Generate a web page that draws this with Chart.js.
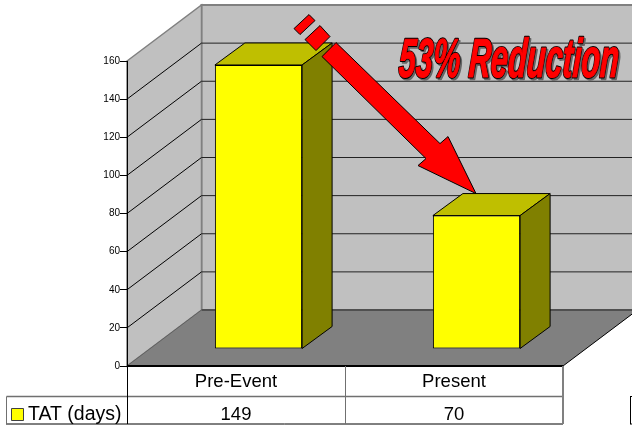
<!DOCTYPE html>
<html>
<head>
<meta charset="utf-8">
<title>TAT (days)</title>
<style>
  html, body { margin: 0; padding: 0; background: #fff; overflow: hidden; }
  canvas { display: block; }
</style>
<script src="https://cdn.jsdelivr.net/npm/chart.js@4/dist/chart.umd.min.js"></script>
</head>
<body>
<canvas id="chart" width="632" height="425"></canvas>
<script>
const categories = ["Pre-Event", "Present"]
const tatDays = [149, 70]
const seriesName = "TAT (days)"
const callout = "53% Reduction"

const FONT = '"Liberation Sans", Arial, sans-serif'
const WALL = "#c0c0c0"
const FLOOR = "#808080"
const EDGE = "#808080"
const YELLOW = "#ffff00"
const YELLOW_TOP = "#bfbf00"
const YELLOW_SIDE = "#808000"

// how far the back wall and a bar sit behind the front plane
const WALL_DEPTH = { x: 74.5, y: -56 }
const BAR_OFFSET = { x: 22.5, y: -17 }
const BAR_DEPTH = { x: 30, y: -22 }

// arrow outline, relative to where it lands on the second bar
const ARROW = [[-140, -151], [-36, -50], [-28, -57], [0, 0], [-58, -28], [-50, -35], [-154, -137]]
const ARROW_DASHES = [
  [[-156, -168], [-146, -157], [-160, -143], [-171, -154]],
  [[-167, -179], [-161, -173], [-176, -159], [-182, -165]],
]

function poly(ctx, pts, fill, stroke, lineWidth = 1) {
  ctx.beginPath()
  pts.forEach(([x, y], i) => (i ? ctx.lineTo(x, y) : ctx.moveTo(x, y)))
  ctx.closePath()
  if (fill) { ctx.fillStyle = fill; ctx.fill() }
  if (stroke) { ctx.strokeStyle = stroke; ctx.lineWidth = lineWidth; ctx.stroke() }
}

function line(ctx, x1, y1, x2, y2, color, lineWidth = 1) {
  ctx.beginPath()
  ctx.moveTo(x1, y1)
  ctx.lineTo(x2, y2)
  ctx.strokeStyle = color
  ctx.lineWidth = lineWidth
  ctx.stroke()
}

const roomPlugin = {
  id: "room",
  beforeDraw(chart) {
    const { ctx, chartArea: a, scales } = chart
    const dx = WALL_DEPTH.x, dy = WALL_DEPTH.y
    ctx.save()

    // back wall, side wall, floor
    poly(ctx, [[a.left + dx, a.top + dy], [a.right + dx, a.top + dy], [a.right + dx, a.bottom + dy], [a.left + dx, a.bottom + dy]], WALL, EDGE, 2)
    poly(ctx, [[a.left, a.top], [a.left + dx, a.top + dy], [a.left + dx, a.bottom + dy], [a.left, a.bottom]], WALL, EDGE, 1.5)

    scales.y.ticks.forEach(t => {
      if (t.value === 0 || t.value === scales.y.max) return
      const y = scales.y.getPixelForValue(t.value)
      line(ctx, a.left, y, a.left + dx, y + dy, "#000")
      line(ctx, a.left + dx, y + dy, a.right + dx, y + dy, "#222")
    })

    poly(ctx, [[a.left, a.bottom], [a.left + dx, a.bottom + dy], [a.right + dx, a.bottom + dy], [a.right, a.bottom]], FLOOR)
    line(ctx, a.left + dx, a.bottom + dy, a.right + dx, a.bottom + dy, "#505050", 2)
    line(ctx, a.left, a.bottom, a.left + dx, a.bottom + dy, "#606060")
    line(ctx, a.right, a.bottom, a.right + dx, a.bottom + dy, "#000")
    ctx.restore()
  },
  beforeDatasetsDraw(chart) {
    const { ctx } = chart
    ctx.save()
    ctx.translate(BAR_OFFSET.x, BAR_OFFSET.y)
    chart.getDatasetMeta(0).data.forEach(bar => {
      const l = bar.x - bar.width / 2, r = bar.x + bar.width / 2
      const t = bar.y, b = bar.base
      const dx = BAR_DEPTH.x, dy = BAR_DEPTH.y
      poly(ctx, [[l, t], [l + dx, t + dy], [r + dx, t + dy], [r, t]], YELLOW_TOP, "#000")
      poly(ctx, [[r, t], [r + dx, t + dy], [r + dx, b + dy], [r, b]], YELLOW_SIDE, "#000")
    })
  },
  afterDatasetsDraw(chart) {
    chart.ctx.restore()
  },
  afterDraw(chart) {
    const { ctx, chartArea: a, scales } = chart
    const rowY = 396.5, bottomY = 424
    const mid = (scales.x.getPixelForTick(0) + scales.x.getPixelForTick(1)) / 2
    ctx.save()

    // data table under the axis
    line(ctx, a.left, a.bottom, a.right, a.bottom, "#000", 2)
    line(ctx, 6.5, rowY, a.right, rowY, "#707070", 1.5)
    line(ctx, 6, bottomY, a.right, bottomY, "#000")
    line(ctx, 6.5, rowY, 6.5, bottomY, "#707070")
    line(ctx, Math.round(a.left) + 0.5, a.bottom, Math.round(a.left) + 0.5, bottomY, "#000")
    line(ctx, Math.round(mid) + 0.5, a.bottom, Math.round(mid) + 0.5, bottomY, "#707070")
    line(ctx, a.right, a.bottom, a.right, bottomY, "#808080", 2)

    poly(ctx, [[11.5, 408.5], [23.5, 408.5], [23.5, 420.5], [11.5, 420.5]], YELLOW, "#404040")
    ctx.font = `19.5px ${FONT}`
    ctx.fillStyle = "#000"
    ctx.textBaseline = "alphabetic"
    ctx.textAlign = "left"
    ctx.fillText(chart.data.datasets[0].label, 28, 420)
    ctx.font = `18.5px ${FONT}`
    ctx.textAlign = "center"
    tatDays.forEach((v, i) => ctx.fillText(String(v), scales.x.getPixelForTick(i), 420))

    // cut-off box at the right margin
    line(ctx, 630.5, rowY, 630.5, bottomY, "#000")
    line(ctx, 630, rowY, 632, rowY, "#000")
    line(ctx, 630, bottomY, 632, bottomY, "#000")

    // arrow from the first bar down to the second
    const bar = chart.getDatasetMeta(0).data[1]
    const tipX = bar.x + BAR_OFFSET.x - 0.5
    const tipY = bar.y + BAR_OFFSET.y + BAR_DEPTH.y
    const at = pts => pts.map(([x, y]) => [tipX + x, tipY + y])
    poly(ctx, at(ARROW), "#ff0000", "#000")
    ARROW_DASHES.forEach(d => poly(ctx, at(d), "#ff0000", "#000"))

    // slanted, condensed callout with a drop shadow
    ctx.font = `italic bold 56px ${FONT}`
    ctx.textAlign = "left"
    ctx.lineJoin = "round"
    ctx.save()
    ctx.transform(0.548, 0, -0.06, 0.98, 398, 77)
    ctx.translate(3.5, 2)
    ctx.fillStyle = "#666"
    ctx.strokeStyle = "#666"
    ctx.lineWidth = 2.6
    ctx.strokeText(callout, 0, 0)
    ctx.fillText(callout, 0, 0)
    ctx.translate(-3.5, -2)
    ctx.strokeStyle = "#000"
    ctx.lineWidth = 3.2
    ctx.strokeText(callout, 0, 0)
    ctx.strokeStyle = "#ff0000"
    ctx.lineWidth = 1.2
    ctx.strokeText(callout, 0, 0)
    ctx.fillStyle = "#ff0000"
    ctx.fillText(callout, 0, 0)
    ctx.restore()
    ctx.restore()
  },
}

new Chart(document.getElementById("chart"), {
  type: "bar",
  data: {
    labels: categories,
    datasets: [{
      label: seriesName,
      data: tatDays,
      backgroundColor: YELLOW,
      borderColor: "#000",
      borderWidth: 1,
      borderSkipped: false,
      barPercentage: 0.4,
      categoryPercentage: 1,
      clip: false,
    }],
  },
  plugins: [roomPlugin],
  options: {
    responsive: false,
    animation: false,
    events: [],
    layout: { padding: { top: 61, right: 69, left: 0, bottom: 0 } },
    plugins: { legend: { display: false }, tooltip: { enabled: false } },
    scales: {
      x: {
        afterFit: scale => { scale.height = 59 },
        grid: { display: false },
        border: { display: false },
        ticks: { color: "#000", font: { family: FONT, size: 18.5 }, padding: -3, maxRotation: 0 },
      },
      y: {
        min: 0,
        max: 160,
        afterFit: scale => { scale.width = 127 },
        grid: { drawOnChartArea: false, color: "#000", tickLength: 7 },
        border: { color: "#000", width: 1 },
        ticks: { stepSize: 20, color: "#000", font: { family: FONT, size: 10 }, padding: 0 },
      },
    },
  },
})
</script>
</body>
</html>
